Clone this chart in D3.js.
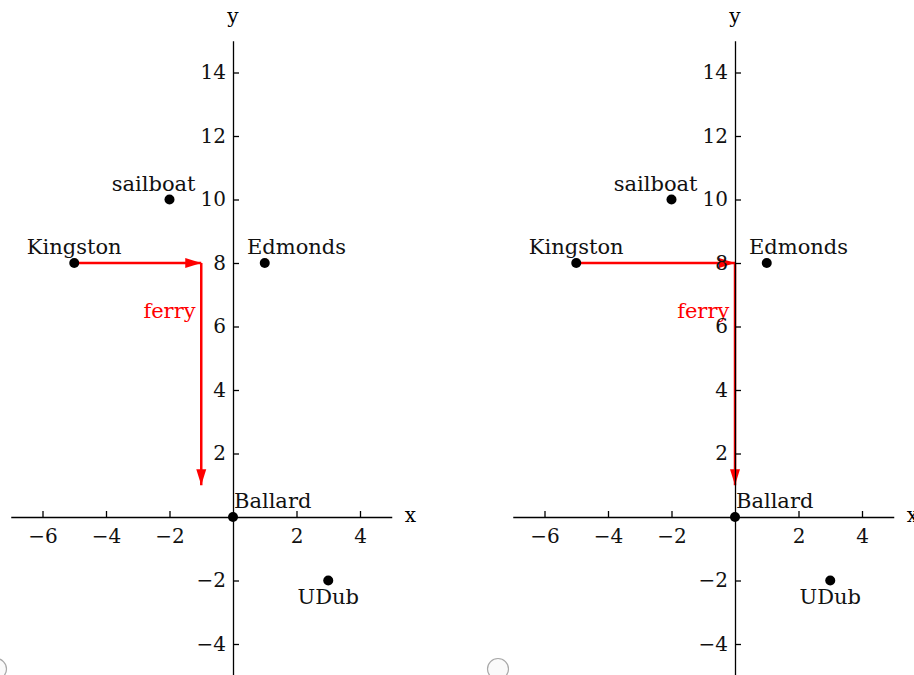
<!DOCTYPE html>
<html>
<head>
<meta charset="utf-8">
<script src="https://cdn.jsdelivr.net/npm/d3@7"></script>
<style>
  body { margin: 0; background: #fff; }
  text { font-family: "DejaVu Serif", serif; }
</style>
</head>
<body>
<svg id="chart" width="914" height="675"></svg>
<script>
/////////////////////////////////////////////
// data
/////////////////////////////////////////////

// places on the map
const places = ["sailboat", "Kingston", "Edmonds", "Ballard", "UDub"];
const placeX = [-2, -5, 1, 0, 3];
const placeY = [10, 8, 8, 0, -2];
const labelX = [-2.5, -5, 2, 1.25, 3];
const labelY = [10.5, 8.5, 8.5, 0.5, -2.5];

// ferry route, one per panel (x then y of each stop)
const ferryLeftX = [-5, -1, -1];
const ferryLeftY = [8, 8, 1];
const ferryRightX = [-5, 0, 0];
const ferryRightY = [8, 8, 1];
const ferryLabelLeft = [-2, 6.5];
const ferryLabelRight = [-1, 6.5];

// axes
const xDomain = [-7, 5];
const yDomain = [-5, 15];
const xTicks = [-6, -4, -2, 2, 4];
const yTicks = [-4, -2, 2, 4, 6, 8, 10, 12, 14];

/////////////////////////////////////////////
// setup
/////////////////////////////////////////////

let svg = d3.select("#chart");
let unit = 31.75,          // px per data unit
    originY = 517;

let fmt = d => (d < 0 ? "\u2212" : "") + Math.abs(d);

svg.append("defs").append("marker")
  .attr("id", "head")
  .attr("markerUnits", "userSpaceOnUse")
  .attr("viewBox", "0 -6 17 12")
  .attr("refX", 16)
  .attr("refY", 0)
  .attr("markerWidth", 17)
  .attr("markerHeight", 12)
  .attr("orient", "auto")
  .append("path")
  .attr("d", "M0,-5L16,0L0,5Z")
  .attr("fill", "#ff0000");

let panels = [
  { originX: 233, fx: ferryLeftX, fy: ferryLeftY, fl: ferryLabelLeft },
  { originX: 735, fx: ferryRightX, fy: ferryRightY, fl: ferryLabelRight }
];

panels.forEach(function(p) {
  let x = d3.scaleLinear().domain(xDomain)
    .range([p.originX + xDomain[0] * unit, p.originX + xDomain[1] * unit]);
  let y = d3.scaleLinear().domain(yDomain)
    .range([originY - yDomain[0] * unit, originY - yDomain[1] * unit]);

  let g = svg.append("g");

  //	ferry arrows
  let legs = d3.range(p.fx.length - 1);
  g.selectAll(".leg")
    .data(legs)
    .enter().append("line")
    .attr("class", "leg")
    .attr("x1", i => x(p.fx[i]))
    .attr("y1", i => y(p.fy[i]))
    .attr("x2", i => x(p.fx[i + 1]))
    .attr("y2", i => y(p.fy[i + 1]))
    .attr("stroke", "#ff0000")
    .attr("stroke-width", 2.5)
    .attr("marker-end", "url(#head)");

  g.append("text")
    .attr("x", x(p.fl[0]))
    .attr("y", y(p.fl[1]))
    .attr("dy", "0.35em")
    .attr("text-anchor", "middle")
    .attr("font-size", 21)
    .attr("fill", "#ff0000")
    .text("ferry");

  //	axes
  let xAxis = d3.axisBottom(x)
    .tickValues(xTicks)
    .tickFormat(fmt)
    .tickSizeInner(-6)
    .tickSizeOuter(0)
    .tickPadding(12);

  let yAxis = d3.axisLeft(y)
    .tickValues(yTicks)
    .tickFormat(fmt)
    .tickSizeInner(-6)
    .tickSizeOuter(0)
    .tickPadding(7);

  let ax = g.append("g")
    .attr("transform", "translate(0," + originY + ")")
    .call(xAxis);
  let ay = g.append("g")
    .attr("transform", "translate(" + p.originX + ",0)")
    .call(yAxis);

  [ax, ay].forEach(function(a) {
    a.attr("font-family", null).attr("font-size", 20);
    a.selectAll("path, line").attr("stroke", "#000").attr("stroke-width", 1.3);
    a.selectAll("text").attr("fill", "#111");
  });

  g.append("text")
    .attr("x", x(xDomain[1]) + 13)
    .attr("y", originY + 5)
    .attr("font-size", 20)
    .text("x");

  g.append("text")
    .attr("x", p.originX)
    .attr("y", y(yDomain[1]) - 18)
    .attr("text-anchor", "middle")
    .attr("font-size", 20)
    .text("y");

  //	places
  g.selectAll(".place")
    .data(places)
    .enter().append("circle")
    .attr("class", "place")
    .attr("cx", (d, i) => x(placeX[i]))
    .attr("cy", (d, i) => y(placeY[i]))
    .attr("r", 5)
    .attr("fill", "#000");

  g.selectAll(".label")
    .data(places)
    .enter().append("text")
    .attr("class", "label")
    .attr("x", (d, i) => x(labelX[i]))
    .attr("y", (d, i) => y(labelY[i]))
    .attr("dy", "0.35em")
    .attr("text-anchor", "middle")
    .attr("font-size", 21)
    .attr("fill", "#111")
    .text(d => d);

  //	radio button left over from the page below the plot
  g.append("circle")
    .attr("cx", p.originX - 237)
    .attr("cy", 669)
    .attr("r", 10.5)
    .attr("fill", "#fafafa")
    .attr("stroke", "#a8a8a8")
    .attr("stroke-width", 1.2);
});
</script>
</body>
</html>
